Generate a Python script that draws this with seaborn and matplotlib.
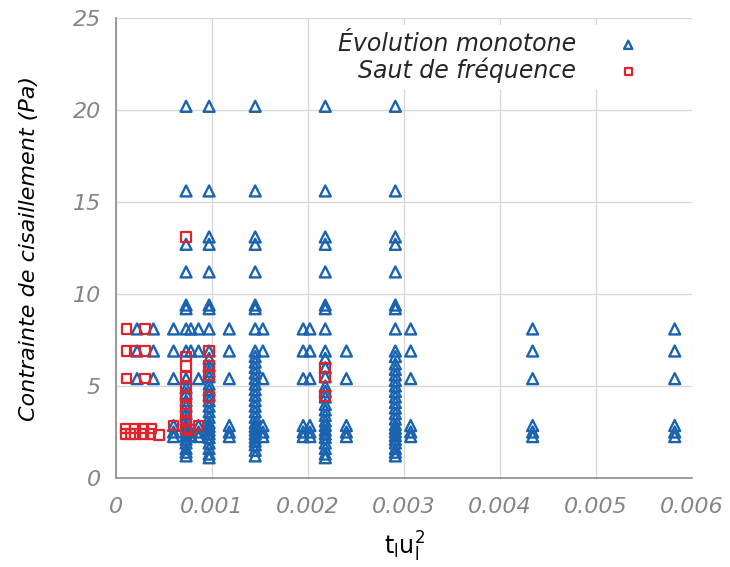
import numpy as np
import pandas as pd
import matplotlib
matplotlib.use("Agg")
import matplotlib.pyplot as plt
import seaborn as sns

# ---------------- data ----------------
# "Évolution monotone" (triangles): x positions and y values per column
mono_x_a = 0.00022; mono_y_a = [8.1, 6.9, 5.4]
mono_x_b = 0.00039; mono_y_b = [8.1, 6.9, 5.4]
mono_x_c = 0.00060; mono_y_c = [8.1, 6.9, 5.4, 2.85, 2.5, 2.25]
mono_x_d = 0.00073; mono_y_d = [20.2, 15.6, 12.7, 11.2, 9.4, 9.2, 8.1, 6.9, 5.4, 4.9, 4.6, 4.2,
                                3.9, 3.5, 3.2, 2.9, 2.7, 2.5, 2.3, 2.1, 1.9, 1.6, 1.4, 1.2]
mono_x_e = 0.00078; mono_y_e = [8.1, 6.9, 2.5, 2.3]
mono_x_f = 0.00086; mono_y_f = [8.1, 6.9, 5.4, 2.85, 2.5, 2.25]
mono_x_g = 0.00097; mono_y_g = [20.2, 15.6, 13.1, 12.7, 11.2, 9.4, 9.2, 8.1, 6.9, 6.5, 6.1, 5.8,
                                5.5, 5.1, 4.8, 4.5, 4.2, 3.9, 3.6, 3.3, 3.0, 2.8, 2.6, 2.4, 2.2,
                                1.9, 1.6, 1.3, 1.1]
mono_x_h = 0.00118; mono_y_h = [8.1, 6.9, 5.4, 2.85, 2.5, 2.25]
mono_x_i = 0.00145; mono_y_i = [20.2, 15.6, 13.1, 12.7, 11.2, 9.4, 9.2, 8.1, 6.9, 6.6, 6.3, 6.0,
                                5.7, 5.4, 5.1, 4.8, 4.5, 4.2, 3.9, 3.6, 3.3, 3.0, 2.8, 2.6, 2.4,
                                2.2, 2.0, 1.8, 1.5, 1.2]
mono_x_j = 0.00153; mono_y_j = [8.1, 6.9, 5.4, 2.85, 2.5, 2.25]
mono_x_k = 0.00195; mono_y_k = [8.1, 6.9, 5.4, 2.85, 2.5, 2.25]
mono_x_l = 0.00202; mono_y_l = [8.1, 6.9, 5.4, 2.85, 2.5, 2.25]
mono_x_m = 0.00218; mono_y_m = [20.2, 15.6, 13.1, 12.7, 11.2, 9.4, 9.2, 8.1, 6.9, 6.5, 6.0, 5.5,
                                5.0, 4.7, 4.4, 4.0, 3.7, 3.4, 3.1, 2.85, 2.6, 2.4, 2.2, 1.9, 1.6,
                                1.3, 1.1]
mono_x_n = 0.00240; mono_y_n = [6.9, 5.4, 2.85, 2.5, 2.25]
mono_x_o = 0.00291; mono_y_o = [20.2, 15.6, 13.1, 12.7, 11.2, 9.4, 9.2, 8.1, 6.9, 6.6, 6.2, 5.9,
                                5.6, 5.3, 5.0, 4.7, 4.4, 4.1, 3.8, 3.5, 3.2, 2.9, 2.7, 2.5, 2.3,
                                2.1, 1.9, 1.6, 1.4, 1.2]
mono_x_p = 0.00307; mono_y_p = [8.1, 6.9, 5.4, 2.85, 2.5, 2.25]
mono_x_q = 0.00434; mono_y_q = [8.1, 6.9, 5.4, 2.85, 2.5, 2.25]
mono_x_r = 0.00582; mono_y_r = [8.1, 6.9, 5.4, 2.85, 2.5, 2.25]

# "Saut de fréquence" (squares)
saut_x_a = 0.00011; saut_y_a = [8.1, 6.9, 5.4]
saut_x_b = 0.00020; saut_y_b = [6.9]
saut_x_c = 0.00030; saut_y_c = [8.1, 6.9, 5.4]
saut_low_x = [0.00010, 0.00015, 0.00020, 0.00028, 0.00036, 0.00045, 0.00010, 0.00020, 0.00028, 0.00037]
saut_low_y = [2.4, 2.4, 2.4, 2.4, 2.4, 2.35, 2.7, 2.7, 2.7, 2.7]
saut_x_d = 0.00073; saut_y_d = [13.1, 6.6, 6.1, 5.5, 5.0, 4.4, 4.0, 3.5, 3.1, 2.7]
saut_mid_x = [0.00060, 0.00077, 0.00086]
saut_mid_y = [2.85, 2.6, 2.85]
saut_x_g = 0.00097; saut_y_g = [6.9, 6.1, 5.6, 4.4]
saut_x_m = 0.00218; saut_y_m = [6.0, 5.5, 4.45]

x_ticks = [0, 0.001, 0.002, 0.003, 0.004, 0.005, 0.006]
x_tick_labels = ["0", "0.001", "0.002", "0.003", "0.004", "0.005", "0.006"]
y_ticks = [0, 5, 10, 15, 20, 25]
y_tick_labels = ["0", "5", "10", "15", "20", "25"]

label_mono = "Évolution monotone"
label_saut = "Saut de fréquence"
x_label = r"$\mathregular{t_l u_l^2}$"
y_label = "Contrainte de cisaillement (Pa)"

# ---------------- build tables ----------------
mono_cols = [(mono_x_a, mono_y_a), (mono_x_b, mono_y_b), (mono_x_c, mono_y_c), (mono_x_d, mono_y_d),
             (mono_x_e, mono_y_e), (mono_x_f, mono_y_f), (mono_x_g, mono_y_g), (mono_x_h, mono_y_h),
             (mono_x_i, mono_y_i), (mono_x_j, mono_y_j), (mono_x_k, mono_y_k), (mono_x_l, mono_y_l),
             (mono_x_m, mono_y_m), (mono_x_n, mono_y_n), (mono_x_o, mono_y_o), (mono_x_p, mono_y_p),
             (mono_x_q, mono_y_q), (mono_x_r, mono_y_r)]
mx, my = [], []
for cx, ys in mono_cols:
    mx += [cx] * len(ys)
    my += list(ys)
df_mono = pd.DataFrame({"x": mx, "y": my})

sx, sy = [], []
for cx, ys in [(saut_x_a, saut_y_a), (saut_x_b, saut_y_b), (saut_x_c, saut_y_c),
               (saut_x_d, saut_y_d), (saut_x_g, saut_y_g), (saut_x_m, saut_y_m)]:
    sx += [cx] * len(ys)
    sy += list(ys)
sx += saut_low_x + saut_mid_x
sy += saut_low_y + saut_mid_y
df_saut = pd.DataFrame({"x": sx, "y": sy})

# ---------------- plot ----------------
sns.set_theme(style="white")
plt.rcParams["font.family"] = ["DejaVu Sans"]

blue = "#1a63b0"
red = "#e2232a"
grey = "#8c8c8c"

fig = plt.figure(figsize=(7.30, 5.67), dpi=100)
ax = fig.add_axes([116 / 730, (567 - 478) / 567, 576 / 730, 460 / 567])

sns.scatterplot(data=df_mono, x="x", y="y", ax=ax, marker="^", s=62,
                facecolor="none", edgecolor=blue, linewidth=1.7, label=label_mono, zorder=3)
sns.scatterplot(data=df_saut, x="x", y="y", ax=ax, marker="s", s=48,
                facecolor="none", edgecolor=red, linewidth=1.6, label=label_saut, zorder=4)

ax.set_xlim(0, 0.006)
ax.set_ylim(0, 25)
ax.set_xticks(x_ticks)
ax.set_xticklabels(x_tick_labels)
ax.set_yticks(y_ticks)
ax.set_yticklabels(y_tick_labels)

ax.grid(True, color="#d6d6d6", linewidth=0.9)
ax.set_axisbelow(True)

for side in ["top", "right"]:
    ax.spines[side].set_visible(False)
for side in ["left", "bottom"]:
    ax.spines[side].set_color(grey)
    ax.spines[side].set_linewidth(1.2)

ax.tick_params(axis="both", direction="in", length=5, width=1, color=grey,
               labelcolor="#858585", labelsize=16)
ax.tick_params(axis="x", pad=14)
ax.tick_params(axis="y", pad=11)
for t in ax.get_xticklabels() + ax.get_yticklabels():
    t.set_fontstyle("italic")

ax.set_xlabel(x_label, fontsize=17, color="black", labelpad=9)
ax.set_ylabel(y_label, fontsize=16, color="black", fontstyle="italic", labelpad=24)

leg = ax.legend(loc="upper right", bbox_to_anchor=(0.92, 0.985), borderaxespad=0,
                markerfirst=False, frameon=True, framealpha=1, facecolor="white",
                edgecolor="none", fancybox=False, handlelength=0.9, handletextpad=1.75,
                borderpad=0.3, labelspacing=0.05, markerscale=0.75,
                prop={"size": 17, "style": "italic"})

fig.savefig("out.png", dpi=100)
